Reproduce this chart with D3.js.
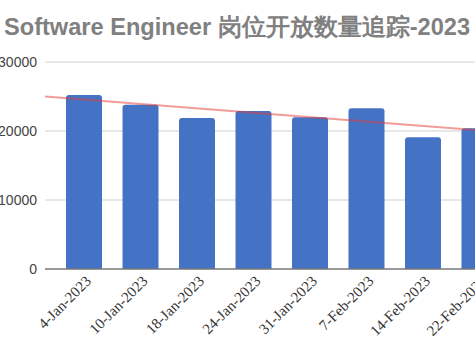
<!DOCTYPE html>
<html><head><meta charset="utf-8">
<script src="https://cdn.jsdelivr.net/npm/d3@7"></script>
<style>
html,body{margin:0;padding:0;background:#fff;overflow:hidden;}
svg{display:block;}
</style></head>
<body>
<svg id="chart" width="475" height="356"></svg>
<script>
const categories = ["4-Jan-2023","10-Jan-2023","18-Jan-2023","24-Jan-2023","31-Jan-2023","7-Feb-2023","14-Feb-2023","22-Feb-2023"];
const openings = [25200,23800,21900,22900,22000,23300,19100,20400];
const yTicks = [0,10000,20000,30000];
const title = "Software Engineer 岗位开放数量追踪-2023";

const svg = d3.select("#chart");
const plotLeft = 45, plotRight = 518.5, plotTop = 62, plotBottom = 269;

const x = d3.scaleBand().domain(categories).range([plotLeft, plotRight])
  .paddingInner(0.363).paddingOuter(0.372);
const y = d3.scaleLinear().domain([0,30000]).range([plotBottom, plotTop]);

// title
svg.append("text").attr("x",4).attr("y",35)
  .attr("font-family","Liberation Sans, Arial, sans-serif")
  .attr("font-weight","bold").attr("font-size",23.6).attr("fill","#808080")
  .text(title);

// gridlines
svg.append("g").selectAll("line").data(yTicks.filter(d=>d>0)).join("line")
  .attr("x1",plotLeft).attr("x2",plotRight)
  .attr("y1",d=>y(d)).attr("y2",d=>y(d))
  .attr("stroke","#d0d0d0").attr("stroke-width",1);

// y labels
const yAxis = d3.axisLeft(y).tickValues(yTicks).tickSize(0).tickPadding(8).tickFormat(d3.format("d"));
const ga = svg.append("g").attr("transform",`translate(${plotLeft},0)`).call(yAxis);
ga.select(".domain").remove();
ga.selectAll("text").attr("font-family","Liberation Sans, Arial, sans-serif")
  .attr("font-size",14).attr("fill","#444");

// bars with rounded top
const r = 3;
svg.append("g").selectAll("path").data(categories).join("path")
  .attr("fill","#4472c4")
  .attr("d",(c,i)=>{
    const x0 = x(c), w = x.bandwidth(), y0 = y(openings[i]), yb = y(0);
    return `M${x0},${yb}V${y0+r}Q${x0},${y0} ${x0+r},${y0}H${x0+w-r}Q${x0+w},${y0} ${x0+w},${y0+r}V${yb}Z`;
  });

// x axis baseline
svg.append("line").attr("x1",plotLeft).attr("x2",plotRight)
  .attr("y1",y(0)).attr("y2",y(0)).attr("stroke","#777").attr("stroke-width",1.5);

// x labels
svg.append("g").selectAll("text").data(categories).join("text")
  .attr("transform",c=>`translate(${x(c)+x.bandwidth()/2+8},${y(0)+13}) rotate(-45)`)
  .attr("text-anchor","end")
  .attr("font-family","Liberation Serif, Times New Roman, serif")
  .attr("font-size",15).attr("fill","#333")
  .text(c=>c);

// linear trendline computed from data
const n = openings.length;
const mx = d3.mean(d3.range(n)), my = d3.mean(openings);
const sxy = d3.sum(openings,(v,i)=>(i-mx)*(v-my));
const sxx = d3.sum(d3.range(n),i=>(i-mx)*(i-mx));
const slope = sxy/sxx, intercept = my - slope*mx;
const step = x.step();
const idxAt = px => (px - (x(categories[0])+x.bandwidth()/2))/step;
const tx = [plotLeft, plotRight];
svg.append("line")
  .attr("x1",tx[0]).attr("y1",y(intercept+slope*idxAt(tx[0])))
  .attr("x2",tx[1]).attr("y2",y(intercept+slope*idxAt(tx[1])))
  .attr("stroke","#e53935").attr("stroke-opacity",0.5).attr("stroke-width",2);
</script>
</body></html>
